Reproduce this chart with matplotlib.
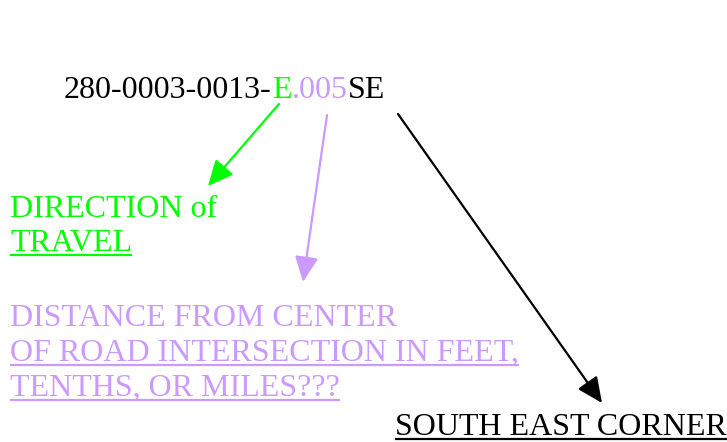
import matplotlib
matplotlib.use("Agg")
import matplotlib.pyplot as plt

GREEN = "#00ff00"
PURPLE = "#cc99ff"
BLACK = "#000000"

# code pieces and their colours
code_parts = ["280-0003-0013-", "E", ".005", "SE"]
code_colors = [BLACK, GREEN, PURPLE, BLACK]
code_pos = (64, 98)

# label lines: text, x, baseline y, colour, underlined
labels = [
    ("DIRECTION of", 10, 217, GREEN, False),
    ("TRAVEL", 10, 251, GREEN, True),
    ("DISTANCE FROM CENTER", 10, 326, PURPLE, False),
    ("OF ROAD INTERSECTION IN FEET,", 10, 361, PURPLE, True),
    ("TENTHS, OR MILES???", 10, 396, PURPLE, True),
    ("SOUTH EAST CORNER", 395, 435, BLACK, True),
]

# arrows: start, end, colour
arrows = [
    ((279, 104), (208, 186), GREEN),
    ((327, 115), (303, 282), PURPLE),
    ((398, 114), (602, 403), BLACK),
]

W, H = 727, 442
fig = plt.figure(figsize=(W / 100, H / 100), dpi=100)
ax = fig.add_axes([0, 0, 1, 1])
ax.set_xlim(0, W)
ax.set_ylim(H, 0)
ax.axis("off")

font = dict(family="Liberation Serif", size=23)
fig.canvas.draw()
renderer = fig.canvas.get_renderer()
inv = ax.transData.inverted()

# multi-coloured code string, pieces placed one after another
x, y = code_pos
for part, col in zip(code_parts, code_colors):
    t = ax.text(x, y, part, color=col, ha="left", va="baseline", **font)
    bb = t.get_window_extent(renderer)
    x = inv.transform((bb.x1, 0))[0]

for txt, lx, ly, col, ul in labels:
    t = ax.text(lx, ly, txt, color=col, ha="left", va="baseline", **font)
    if ul:
        bb = t.get_window_extent(renderer)
        x0 = inv.transform((bb.x0, 0))[0]
        x1 = inv.transform((bb.x1, 0))[0]
        ax.plot([x0, x1], [ly + 4, ly + 4], color=col, lw=1.6,
                solid_capstyle="butt")

for (x0, y0), (x1, y1), col in arrows:
    ax.annotate("", xy=(x1, y1), xytext=(x0, y0),
                arrowprops=dict(arrowstyle="-|>,head_length=0.65,head_width=0.3",
                                color=col, lw=1.6,
                                mutation_scale=24, shrinkA=0, shrinkB=0))

fig.savefig("out.png", dpi=100)
